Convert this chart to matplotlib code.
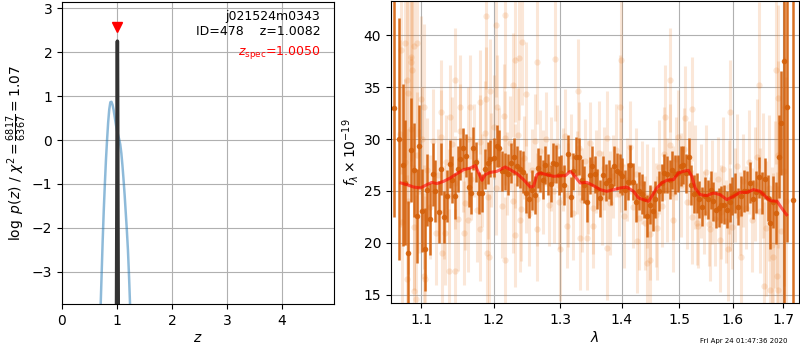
import matplotlib
matplotlib.use("Agg")
import matplotlib.pyplot as plt
from matplotlib.ticker import FixedLocator, FormatStrFormatter, NullLocator

# ---------------- left panel data: p(z) ----------------
z_coarse = [0.68, 0.70, 0.72, 0.74, 0.76, 0.78, 0.80, 0.82, 0.84, 0.86, 0.88, 0.90, 0.92,
            0.94, 0.96, 0.98, 1.00, 1.02, 1.04, 1.06, 1.08, 1.10, 1.12, 1.14, 1.16,
            1.18, 1.20, 1.22, 1.24, 1.26]
logp_coarse = [-4.8, -3.9, -3.1, -2.3, -1.6, -1.0, -0.45, 0.0, 0.4, 0.7, 0.86, 0.87, 0.80,
               0.68, 0.52, 0.36, 0.22, 0.12, 0.02, -0.10, -0.30, -0.58, -0.90, -1.25, -1.65,
               -2.05, -2.5, -3.1, -3.8, -4.5]
z_fine = [0.990, 0.998, 1.002, 1.005, 1.008, 1.011, 1.014, 1.018, 1.026]
logp_fine = [-4.5, -1.5, 0.5, 1.8, 2.25, 1.8, 0.5, -1.5, -4.5]
z_best = 1.0082
z_spec = 1.0050
chi2_num, chi2_den, chi2_ratio = 6817, 6367, 1.07

# ---------------- right panel data: spectrum ----------------
# faint (unbinned) points
faint_lam = [
    1.189, 1.217, 1.203, 1.242, 1.232, 1.237, 1.265, 1.292, 1.399, 1.484,
    1.329, 1.229, 1.248, 1.146, 1.189, 1.195, 1.181, 1.166, 1.153, 1.127,
    1.139, 1.205, 1.215, 1.397, 1.475, 1.511, 1.524, 1.595, 1.652, 1.686,
    1.690, 1.704, 1.073, 1.078, 1.087, 1.086, 1.088, 1.090, 1.094, 1.081,
    1.083, 1.099, 1.103,
    1.093, 1.090, 1.081, 1.103, 1.105, 1.137, 1.145, 1.128, 1.132, 1.158,
    1.164, 1.181, 1.190, 1.194, 1.217, 1.232, 1.239, 1.264, 1.300, 1.332,
    1.343, 1.375, 1.426, 1.443, 1.449, 1.460, 1.490, 1.557, 1.576, 1.592,
    1.616, 1.662, 1.674, 1.687, 1.690, 1.680, 1.595, 1.532, 1.353, 1.311,
    1.072, 1.075, 1.079, 1.083, 1.086, 1.090, 1.094, 1.097, 1.101, 1.104,
    1.108, 1.112, 1.115, 1.119, 1.122, 1.126, 1.130, 1.133, 1.137, 1.141,
    1.145, 1.149, 1.152, 1.156, 1.160, 1.164, 1.168, 1.172, 1.176, 1.180,
    1.184, 1.188, 1.192, 1.196, 1.200, 1.204, 1.208, 1.212, 1.216, 1.220,
    1.224, 1.228, 1.232, 1.236, 1.240, 1.244, 1.248, 1.252, 1.257, 1.261,
    1.265, 1.269, 1.274, 1.278, 1.282, 1.286, 1.291, 1.295, 1.299, 1.304,
    1.308, 1.312, 1.317, 1.321, 1.326, 1.330, 1.335, 1.339, 1.344, 1.348,
    1.353, 1.357, 1.362, 1.367, 1.371, 1.376, 1.381, 1.385, 1.390, 1.395,
    1.399, 1.404, 1.409, 1.414, 1.419, 1.424, 1.429, 1.434, 1.439, 1.444,
    1.449, 1.454, 1.459, 1.464, 1.469, 1.474, 1.479, 1.484, 1.489, 1.494,
    1.499, 1.504, 1.509, 1.514, 1.519, 1.524, 1.530, 1.535, 1.540, 1.545,
    1.550, 1.556, 1.561, 1.566, 1.572, 1.577, 1.582, 1.588, 1.593, 1.598,
    1.604, 1.609, 1.615, 1.620, 1.626, 1.631, 1.637, 1.643, 1.648, 1.654,
    1.660, 1.665, 1.671, 1.677, 1.683, 1.689, 1.695, 1.701, 1.707,
]
faint_flux = [
    41.8, 41.9, 41.0, 39.3, 37.6, 37.8, 37.4, 37.7, 37.6, 35.7,
    34.6, 35.2, 34.3, 35.7, 33.8, 34.6, 33.6, 33.1, 33.1, 32.6,
    32.1, 33.1, 32.2, 33.1, 32.1, 32.0, 32.9, 32.6, 35.2, 36.6,
    33.9, 33.1, 38.6, 39.2, 37.9, 37.4, 36.6, 38.9, 39.2, 35.7,
    34.4, 33.8, 33.1,
    14.6, 15.4, 16.5, 16.8, 16.5, 17.3, 17.3, 19.0, 21.0, 21.0,
    22.2, 21.3, 19.0, 18.7, 18.4, 20.8, 22.2, 21.3, 19.4, 20.5,
    20.5, 19.5, 20.2, 18.1, 18.4, 21.4, 22.2, 21.3, 20.3, 19.4,
    18.7, 15.9, 15.5, 16.8, 15.5, 18.7, 23.2, 21.9, 21.6, 21.6,
    30.5, 22.0, 27.8, 24.0, 31.0, 21.5, 28.5, 25.0, 30.0, 22.5,
    27.0, 23.5, 29.8, 21.0, 26.5, 30.2, 23.0, 27.8, 24.5, 29.5,
    25.8, 22.3, 30.8, 27.0, 23.8, 30.0, 26.2, 28.9, 23.2, 29.7,
    26.0, 30.6, 24.4, 28.0, 31.2, 25.3, 29.0, 23.6, 30.1, 26.7,
    29.6, 24.0, 27.4, 30.4, 23.3, 28.2, 25.5, 22.8, 27.0, 29.8,
    24.2, 28.8, 25.9, 30.0, 23.7, 27.6, 25.0, 29.3, 23.9, 27.1,
    30.3, 24.6, 28.4, 22.9, 26.8, 29.1, 24.1, 27.9, 25.4, 29.6,
    23.4, 26.9, 28.7, 24.3, 27.2, 30.1, 23.8, 26.4, 28.9, 24.7,
    27.5, 22.6, 26.1, 29.2, 23.5, 26.6, 22.4, 25.8, 21.9, 24.5,
    20.9, 25.2, 22.7, 27.3, 23.6, 28.6, 25.1, 29.4, 24.8, 28.1,
    30.2, 25.6, 29.0, 23.9, 27.7, 22.5, 26.3, 21.6, 25.0, 22.9,
    26.8, 21.8, 24.9, 22.3, 26.2, 23.0, 27.1, 22.1, 25.4, 21.5,
    24.6, 27.4, 22.8, 26.0, 23.4, 27.8, 22.2, 25.7, 28.3, 23.1,
    26.5, 21.4, 25.3, 19.8, 23.7, 28.5, 21.2, 26.9, 24.0,
]
faint_err = [
    7, 7, 7, 6, 6, 6, 6, 6, 6, 5,
    5, 5, 5, 5, 5, 5, 5, 5, 5, 5,
    5, 5, 5, 5, 5, 5, 5, 5, 8, 9,
    9, 10, 12, 11, 10, 10, 10, 10, 9, 10,
    9, 8, 8,
    10, 10, 10, 8, 8, 6, 6, 6, 5, 5,
    5, 5, 6, 6, 6, 5, 5, 5, 5, 5,
    5, 5, 5, 5, 5, 5, 5, 5, 5, 5,
    5, 8, 9, 10, 10, 8, 4, 4, 4, 4,
    9, 8, 8, 7, 7, 6, 6, 6, 5, 5,
    5, 5, 5, 5, 4.5, 4.5, 4.5, 4.5, 4.5, 4.5,
    4.5, 5, 4.5, 4, 4.5, 5, 4, 4.5, 5, 4.5,
    4.5, 5, 4, 4.5, 5, 4.5, 4, 5, 4.5, 4,
    4.5, 5, 4, 4.5, 5, 4, 4.5, 5, 4, 4.5,
    4.5, 4, 5, 4.5, 4, 4.5, 5, 4, 4.5, 4,
    4.5, 5, 4, 4.5, 4, 4.5, 5, 4, 4.5, 4,
    4.5, 4, 5, 4.5, 4, 4.5, 5, 4, 4.5, 4,
    4.5, 5, 4, 4.5, 4, 4.5, 5, 4, 4.5, 5,
    4.5, 4, 5, 4.5, 4, 4.5, 5, 4, 4.5, 4,
    4.5, 5, 4, 4.5, 4, 4.5, 5, 4, 4.5, 4,
    4.5, 4, 5, 4.5, 4, 4.5, 5, 4, 4.5, 4,
    4.5, 5, 4, 4.5, 4, 5, 5, 5.5, 5.5, 6,
    6, 6.5, 7, 7.5, 8, 9, 10, 11, 12,
]

# binned points
bin_lam = [
    1.0649, 1.0713,
    1.0760, 1.0790, 1.0819, 1.0864, 1.0899, 1.0938, 1.0969, 1.1004, 1.1044, 1.1075,
    1.1115, 1.1151, 1.1187, 1.1232, 1.1259, 1.1300, 1.1345, 1.1386, 1.1418, 1.1454,
    1.1491, 1.1528, 1.1565, 1.1602, 1.1649, 1.1682, 1.1710, 1.1752, 1.1795, 1.1832,
    1.1875, 1.1913, 1.1952, 1.2000, 1.2043, 1.2082, 1.2121, 1.2160, 1.2204, 1.2253,
    1.2292, 1.2341, 1.2386, 1.2431, 1.2481, 1.2526, 1.2566, 1.2606, 1.2652, 1.2687,
    1.2728, 1.2769, 1.2810, 1.2851, 1.2892, 1.2933, 1.2975, 1.3011, 1.3059, 1.3117,
    1.3164, 1.3206, 1.3243, 1.3296, 1.3344, 1.3387, 1.3430, 1.3473, 1.3516, 1.3560,
    1.3598, 1.3641, 1.3692, 1.3741, 1.3785, 1.3829, 1.3874, 1.3924, 1.3968, 1.4013,
    1.4058, 1.4103, 1.4148, 1.4199, 1.4245, 1.4296, 1.4348, 1.4389, 1.4440, 1.4487,
    1.4533, 1.4580, 1.4638, 1.4691, 1.4738, 1.4791, 1.4839, 1.4881, 1.4929, 1.4977,
    1.5031, 1.5080, 1.5129, 1.5177, 1.5226, 1.5275, 1.5324, 1.5373, 1.5428, 1.5478,
    1.5534, 1.5590, 1.5634, 1.5684, 1.5734, 1.5785, 1.5842, 1.5893, 1.5944, 1.5995,
    1.6046, 1.6098, 1.6156, 1.6221, 1.6280, 1.6338, 1.6391, 1.6457, 1.6516, 1.6569,
    1.6637, 1.6690, 1.6743, 1.6804, 1.6858, 1.6926, 1.6960, 1.7028, 1.7090, 1.7200,
]
bin_flux = [
    33.0, 30.0,
    27.5, 25.8, 19.0, 28.9, 27.0, 22.6, 29.3, 23.1, 19.4, 25.1,
    22.3, 26.6, 25.0, 23.0, 27.1, 22.5, 24.5, 27.6, 26.1, 24.5,
    27.1, 28.1, 29.1, 28.4, 25.4, 24.8, 29.1, 27.8, 24.8, 24.8,
    27.1, 27.7, 28.1, 28.2, 29.3, 29.1, 26.9, 26.9, 26.6, 27.7,
    28.3, 27.4, 27.1, 26.8, 24.8, 24.2, 25.1, 24.6, 27.2, 26.7,
    26.1, 27.5, 26.6, 25.7, 27.7, 27.6, 26.5, 26.7, 25.6, 28.6,
    24.4, 26.9, 28.3, 28.3, 26.1, 25.6, 23.9, 26.5, 27.4, 26.6,
    25.2, 24.3, 26.5, 25.8, 26.1, 25.5, 27.4, 26.9, 26.7, 26.4,
    25.1, 25.9, 27.5, 25.9, 23.9, 25.0, 24.7, 24.2, 22.6, 23.7,
    23.1, 24.2, 25.0, 25.8, 26.7, 26.6, 26.1, 27.0, 26.6, 26.7,
    27.4, 27.5, 26.7, 28.3, 25.6, 24.7, 24.8, 24.2, 23.5, 24.5,
    24.2, 25.1, 24.0, 23.2, 23.4, 23.7, 23.7, 23.2, 23.9, 24.5,
    24.8, 23.5, 24.5, 25.0, 25.0, 25.8, 24.2, 24.9, 26.3, 24.8,
    26.2, 24.3, 21.9, 23.9, 22.9, 28.3, 31.5, 37.5, 33.1, 24.1,
]
bin_err = [
    10.5, 11.6,
    7.8, 6, 5, 5, 4.5, 4.5, 4, 4, 4, 3.5,
    3.5, 3, 3, 3, 2.5, 2.5, 2.5, 2.3, 2.3, 2.2,
    2.2, 2.0, 2.0, 2.1, 1.9, 2.0, 2.1, 1.9, 2.0, 1.8,
    1.9, 2.0, 1.8, 1.9, 2.0, 1.8, 1.9, 1.8, 2.0, 1.9,
    1.8, 1.9, 1.8, 2.0, 1.9, 1.8, 1.9, 1.8, 1.9, 1.8,
    1.9, 1.8, 2.0, 1.8, 1.9, 1.8, 1.9, 1.8, 1.9, 1.8,
    1.9, 1.8, 1.9, 1.8, 2.0, 1.8, 1.9, 1.8, 1.9, 1.8,
    1.9, 1.8, 1.9, 1.8, 1.9, 1.8, 1.9, 1.8, 1.9, 1.8,
    1.9, 1.8, 1.9, 1.8, 1.9, 1.8, 1.9, 1.8, 2.0, 1.9,
    1.9, 1.8, 1.9, 1.8, 1.9, 1.8, 1.9, 1.8, 1.9, 1.8,
    1.9, 1.8, 1.9, 1.8, 1.9, 1.8, 1.9, 1.8, 1.9, 1.8,
    1.9, 1.8, 1.9, 1.8, 1.9, 1.8, 1.9, 1.8, 1.9, 1.8,
    1.9, 1.8, 1.9, 2.0, 1.9, 2.0, 1.9, 2.0, 2.0, 2.0,
    2.0, 2.2, 2.5, 2.5, 3.0, 4.0, 5.0, 25.0, 13.0, 20.0,
]

# model
model_lam = [
    1.0734, 1.0812, 1.0899, 1.0987, 1.1075, 1.1141, 1.1208, 1.1300, 1.1390, 1.1482,
    1.1575, 1.1668, 1.1738, 1.1786, 1.1833, 1.1880, 1.1952, 1.2048, 1.2169, 1.2243,
    1.2341, 1.2441, 1.2541, 1.2591, 1.2642, 1.2692, 1.2795, 1.2898, 1.3001, 1.3080,
    1.3159, 1.3212, 1.3318, 1.3425, 1.3533, 1.3642, 1.3752, 1.3863, 1.3974, 1.4086,
    1.4200, 1.4286, 1.4372, 1.4459, 1.4517, 1.4604, 1.4692, 1.4781, 1.4900, 1.4990,
    1.5080, 1.5171, 1.5232, 1.5293, 1.5385, 1.5508, 1.5634, 1.5760, 1.5888, 1.6016,
    1.6144, 1.6277, 1.6408, 1.6537, 1.6641, 1.6742, 1.6879, 1.6970, 1.7072,
]
model_flux = [
    25.77, 25.61, 25.38, 25.29, 25.61, 25.83, 25.71, 25.93, 26.25, 26.67,
    27.05, 27.21, 27.44, 26.73, 26.03, 26.57, 26.79, 26.89, 27.31, 27.05,
    26.67, 26.09, 25.38, 25.45, 26.57, 26.73, 26.57, 26.41, 26.47, 26.47,
    26.89, 26.57, 25.77, 25.83, 25.51, 25.13, 24.97, 25.13, 25.29, 25.38,
    24.97, 24.33, 24.17, 24.01, 24.49, 25.29, 25.77, 26.03, 26.09, 26.73,
    26.89, 26.99, 26.41, 25.29, 24.65, 24.55, 24.81, 24.65, 24.17, 24.49,
    24.87, 24.87, 25.13, 24.97, 24.49, 24.07, 24.01, 23.37, 22.72,
]

lam_ticks = [1.1, 1.2, 1.3, 1.4, 1.5, 1.6, 1.7]
flux_ticks = [15, 20, 25, 30, 35, 40]
z_ticks = [0, 1, 2, 3, 4]
logp_ticks = [-3, -2, -1, 0, 1, 2, 3]

obj_name = "j021524m0343"
obj_id = 478
timestamp = "Fri Apr 24 01:47:36 2020"

# ---------------- figure ----------------
fig = plt.figure(figsize=(8, 3.5), dpi=100)
ax1 = fig.add_axes([62/800, 46/350, 272/800, 302/350])
ax2 = fig.add_axes([391/800, 47/350, 408/800, 302/350])

# left panel
ax1.plot(z_coarse, logp_coarse, color='#1f77b4', alpha=0.5, lw=1.8)
ax1.plot(z_fine, logp_fine, color='0.2', lw=2.5)
ax1.plot([z_spec], [2.56], marker='v', color='red', ms=7, ls='none')
ax1.set_xlim(0, 4.95)
ax1.set_ylim(-3.73, 3.14)
ax1.xaxis.set_major_locator(FixedLocator(z_ticks))
ax1.yaxis.set_major_locator(FixedLocator(logp_ticks))
ax1.grid(True, color='#b0b0b0', lw=0.8)
ax1.set_axisbelow(True)
ax1.set_xlabel(r'$z$', labelpad=2)
ax1.set_ylabel(r'$\log\ p(z)$' + ' / ' +
               r'$\chi^2=\frac{%d}{%d}=%.2f$' % (chi2_num, chi2_den, chi2_ratio),
               labelpad=2)
ax1.text(0.95, 0.975, '%s\nID=%d    z=%.4f' % (obj_name, obj_id, z_best),
         ha='right', va='top', transform=ax1.transAxes, fontsize=9, linespacing=1.2)
ax1.text(0.95, 0.86, r'$z_\mathrm{spec}$=%.4f' % z_spec, ha='right', va='top',
         transform=ax1.transAxes, color='red', fontsize=9)

# right panel
ax2.errorbar(faint_lam, faint_flux, yerr=faint_err, fmt='o', color='#e8751a',
             ms=4.5, alpha=0.17, elinewidth=2.2, capsize=0, mew=0, zorder=1)
ax2.errorbar(bin_lam, bin_flux, yerr=bin_err, fmt='o', color='#d4600a',
             ms=4, alpha=0.9, elinewidth=1.8, capsize=0, mew=0, zorder=2)
ax2.plot(model_lam, model_flux, color='red', alpha=0.6, lw=2.2, zorder=3)
ax2.set_xscale('log')
ax2.set_xlim(1.0606, 1.733)
ax2.set_ylim(14.23, 43.27)
ax2.xaxis.set_major_locator(FixedLocator(lam_ticks))
ax2.xaxis.set_major_formatter(FormatStrFormatter('%.1f'))
ax2.xaxis.set_minor_locator(NullLocator())
ax2.yaxis.set_major_locator(FixedLocator(flux_ticks))
ax2.grid(True, color='#b0b0b0', lw=0.8)
ax2.set_axisbelow(True)
ax2.set_xlabel(r'$\lambda$', labelpad=2)
ax2.set_ylabel(r'$f_\lambda \times 10^{-19}$', labelpad=2)

fig.text(0.985, 0.025, timestamp, ha='right', va='center', fontsize=5)

fig.savefig('out.png', dpi=100)
